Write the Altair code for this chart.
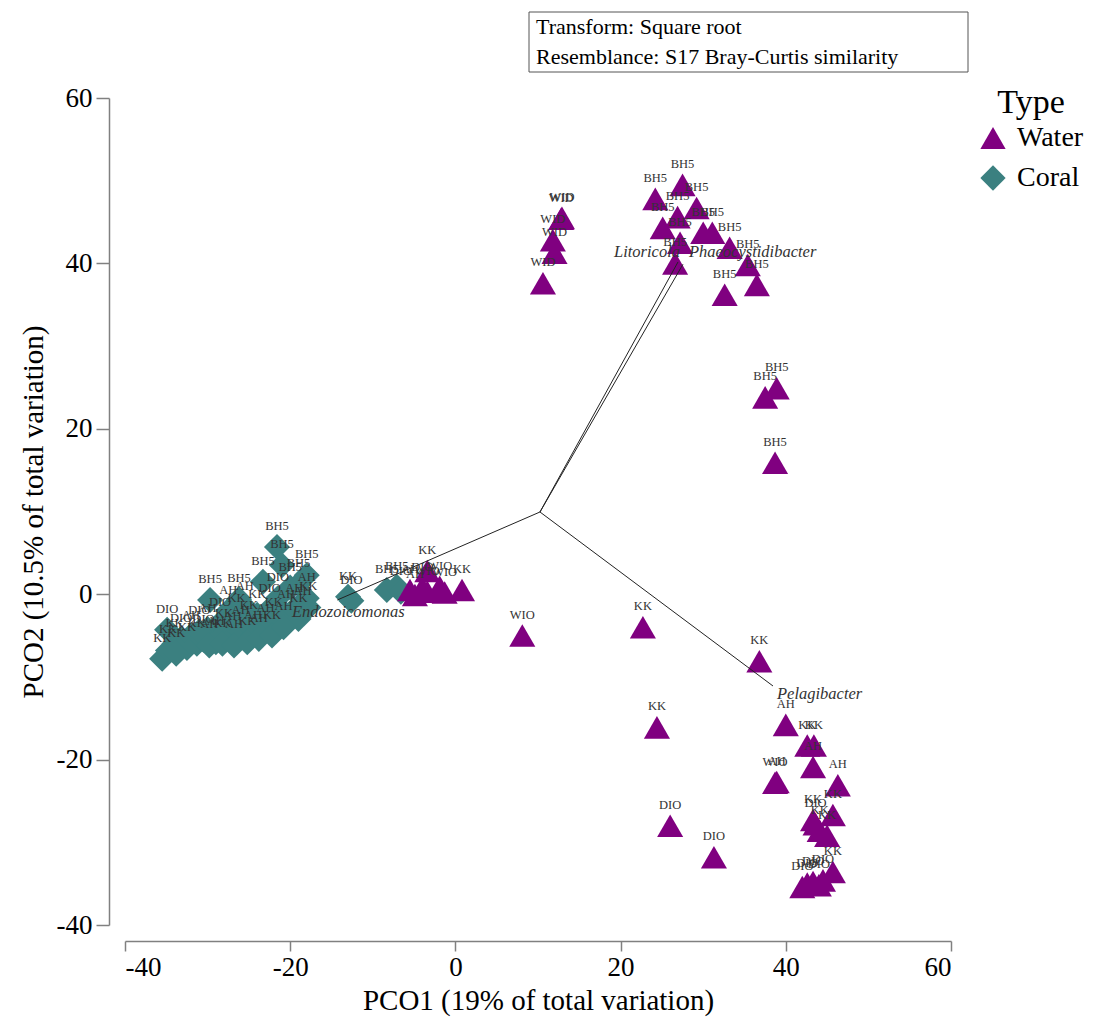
import altair as alt
import pandas as pd

SERIF = "Liberation Serif"

# ---- Water samples (PCO1, PCO2, site) ----
water_x = [12.9, 12.8, 11.8, 12.0, 10.6,
           27.5, 24.2, 29.2, 26.9, 25.1, 30.0, 31.1, 27.2, 33.2, 26.6, 35.4, 36.5, 32.6,
           37.5, 38.9, 38.7,
           0.8, -1.9, -3.4, -4.9, -3.4, -5.5, -1.3, -4.0,
           8.1, 22.7, 36.8, 24.4, 40.0, 42.6, 43.4, 43.3, 46.3, 38.7, 38.9,
           43.3, 45.7, 43.6, 44.1, 45.0, 26.0, 31.3,
           42.0, 42.6, 43.3, 44.5, 45.7, 44.0]
water_y = [45.5, 45.4, 42.8, 41.3, 37.6,
           49.5, 47.8, 46.7, 45.6, 44.3, 43.7, 43.7, 42.5, 41.9, 40.0, 39.8, 37.4, 36.2,
           23.8, 24.9, 15.9,
           0.5, 0.9, 0.3, -0.1, 2.8, 0.5, 0.2, 0.8,
           -5.0, -4.0, -8.1, -16.1, -15.8, -18.3, -18.3, -20.9, -23.1, -22.8, -22.7,
           -27.3, -26.7, -27.8, -28.6, -29.2, -28.0, -31.8,
           -35.4, -35.0, -34.8, -34.6, -33.6, -35.2]
water_site = ["WID", "WID", "WID", "WID", "WID",
              "BH5", "BH5", "BH5", "BH5", "BH5", "BH5", "BH5", "BH5", "BH5", "BH5", "BH5", "BH5", "BH5",
              "BH5", "BH5", "BH5",
              "KK", "WIO", "WIO", "AH", "KK", "AH", "WIO", "DIO",
              "WIO", "KK", "KK", "KK", "AH", "KK", "KK", "AH", "AH", "WIO", "AH",
              "KK", "KK", "DIO", "KK", "KK", "DIO", "DIO",
              "DIO", "DIO", "DIO", "DIO", "KK", "DIO"]

# ---- Coral samples (PCO1, PCO2, site) ----
coral_x = [-35.5, -34.8, -34.0, -33.2, -32.5, -32.0, -31.3, -30.5, -30.0, -29.7,
           -29.0, -28.5, -28.0, -27.5, -27.0, -26.5, -26.0, -25.5, -25.0, -24.5,
           -24.0, -23.3, -23.0, -22.5, -22.0, -21.6, -21.0, -21.5, -20.5, -20.0,
           -19.5, -19.0, -18.5, -18.0, -18.0, -19.0, -17.8, -33.8, -31.0, -29.8,
           -28.2, -26.8, -25.2, -23.8, -22.2, -20.8, -34.9, -26.2,
           -13.0, -12.6, -8.3, -7.1, -6.6]
coral_y = [-7.8, -6.8, -6.0, -5.4, -6.5, -5.0, -6.0, -5.5, -4.2, -0.7,
           -5.8, -3.5, -4.8, -2.0, -5.2, -3.0, -4.5, -1.5, -3.8, -5.0,
           -2.5, 1.5, -4.2, -1.8, -3.5, 5.7, 3.5, -0.5, -2.5, 0.8,
           -1.8, 1.2, -2.2, 2.3, -0.5, -3.0, -1.6, -7.2, -4.5, -6.2,
           -6.0, -6.2, -5.8, -5.4, -5.0, -4.0, -4.3, -0.6,
           -0.3, -0.8, 0.5, 0.9, 0.3]
coral_site = ["KK", "KK", "KK", "DIO", "KK", "AH", "KK", "DIO", "AH", "BH5",
              "AH", "DIO", "KK", "AH", "AH", "KK", "AH", "AH", "KK", "AH",
              "KK", "BH5", "AH", "DIO", "KK", "BH5", "BH5", "DIO", "AH", "BH5",
              "AH", "BH5", "AH", "BH5", "AH", "KK", "KK", "KK", "DIO", "AH",
              "KK", "AH", "KK", "AH", "KK", "AH", "DIO", "BH5",
              "KK", "DIO", "BH5", "BH5", "DIO"]

# ---- Genus vectors (start and end in PCO space) ----
vec_name = ["Endozoicomonas", "Litoricola", "Phaeocystidibacter", "Pelagibacter"]
vec_x0 = [10.24, 10.24, 10.24, 10.24]
vec_y0 = [9.94, 9.94, 9.94, 9.94]
vec_x1 = [-14.3, 26.95, 27.55, 38.45]
vec_y1 = [-0.7, 40.17, 39.9, -11.1]

type_order = ["Water", "Coral"]
type_colors = ["#800080", "#3B8080"]
type_shapes = ["triangle-up", "diamond"]

points = pd.concat([
    pd.DataFrame({"PCO1": coral_x, "PCO2": coral_y, "Site": coral_site, "Type": "Coral"}),
    pd.DataFrame({"PCO1": water_x, "PCO2": water_y, "Site": water_site, "Type": "Water"}),
], ignore_index=True)

vectors = pd.DataFrame({"name": vec_name, "x0": vec_x0, "y0": vec_y0, "x1": vec_x1, "y1": vec_y1})

x_scale = alt.Scale(domain=[-40, 60], nice=False, zero=False)
y_scale = alt.Scale(domain=[-40, 60], nice=False, zero=False)

axis_style = dict(
    values=[-40, -20, 0, 20, 40, 60], grid=False, offset=16,
    labelExpr="'' + datum.value",
    domainColor="#808080", domainWidth=1.5, tickColor="#808080", tickWidth=1.5,
    labelFont=SERIF, labelFontSize=27, labelColor="black",
    titleFont=SERIF, titleFontSize=29, titleFontWeight="normal", titleColor="black",
)

x_enc = alt.X("PCO1:Q", scale=x_scale,
              axis=alt.Axis(title="PCO1 (19% of total variation)", tickSize=10,
                            labelPadding=3, titlePadding=6, **axis_style))
y_enc = alt.Y("PCO2:Q", scale=y_scale,
              axis=alt.Axis(title="PCO2 (10.5% of total variation)", tickSize=13,
                            labelPadding=4, titlePadding=8, **axis_style))

symbols = alt.Chart(points).mark_point(filled=True, size=680, opacity=1, strokeWidth=0).encode(
    x=x_enc,
    y=y_enc,
    color=alt.Color("Type:N", scale=alt.Scale(domain=type_order, range=type_colors),
                    legend=alt.Legend(title="Type", orient="none", legendX=854, legendY=-12,
                                      titleFont=SERIF, titleFontSize=34, titleFontWeight="normal",
                                      titleColor="black", titleAnchor="middle", titlePadding=4,
                                      labelFont=SERIF, labelFontSize=28, labelColor="black",
                                      symbolSize=640, symbolStrokeWidth=0, rowPadding=12,
                                      labelOffset=10)),
    shape=alt.Shape("Type:N", scale=alt.Scale(domain=type_order, range=type_shapes)),
)

site_labels = alt.Chart(points).mark_text(font=SERIF, fontSize=12.5, color="#333333",
                                          dy=-21, baseline="middle").encode(
    x="PCO1:Q", y="PCO2:Q", text="Site:N")

arrows = alt.Chart(vectors).mark_rule(color="#222222", strokeWidth=1).encode(
    x="x0:Q", y="y0:Q", x2="x1:Q", y2="y1:Q")

# label placement for each genus: (align, dx, dy)
vec_label_style = {
    "Endozoicomonas": ("center", 11, 12),
    "Litoricola": ("right", 2, -10),
    "Phaeocystidibacter": ("left", 6, -12),
    "Pelagibacter": ("left", 4, 8),
}
vec_texts = []
for name, (al, dx, dy) in vec_label_style.items():
    vec_texts.append(
        alt.Chart(vectors).transform_filter(alt.datum.name == name)
        .mark_text(font=SERIF, fontSize=16.5, fontStyle="italic", color="#333333",
                   align=al, dx=dx, dy=dy, baseline="middle")
        .encode(x="x1:Q", y="y1:Q", text="name:N")
    )

# annotation box with the transform / resemblance settings
info_box = alt.Chart(pd.DataFrame({"k": [0]})).mark_rect(
    fill="white", stroke="#555555", strokeWidth=1).encode(
    x=alt.value(404), x2=alt.value(843), y=alt.value(-86), y2=alt.value(-26))
info_text = alt.Chart(pd.DataFrame({"t": ["Transform: Square root\nResemblance: S17 Bray-Curtis similarity"]})).mark_text(
    font=SERIF, fontSize=22, color="black", align="left", baseline="middle",
    lineBreak="\n", lineHeight=30).encode(
    x=alt.value(411), y=alt.value(-71), text="t:N")

chart = alt.layer(symbols, arrows, site_labels, *vec_texts, info_box, info_text).properties(
    width=826, height=827,
    padding={"left": 125, "top": 98, "right": 151, "bottom": 100},
    autosize=alt.AutoSizeParams(type="none"),
    background="white",
).configure_view(stroke=None)

chart.save("out.html", embed_options={"renderer": "svg", "actions": False})
